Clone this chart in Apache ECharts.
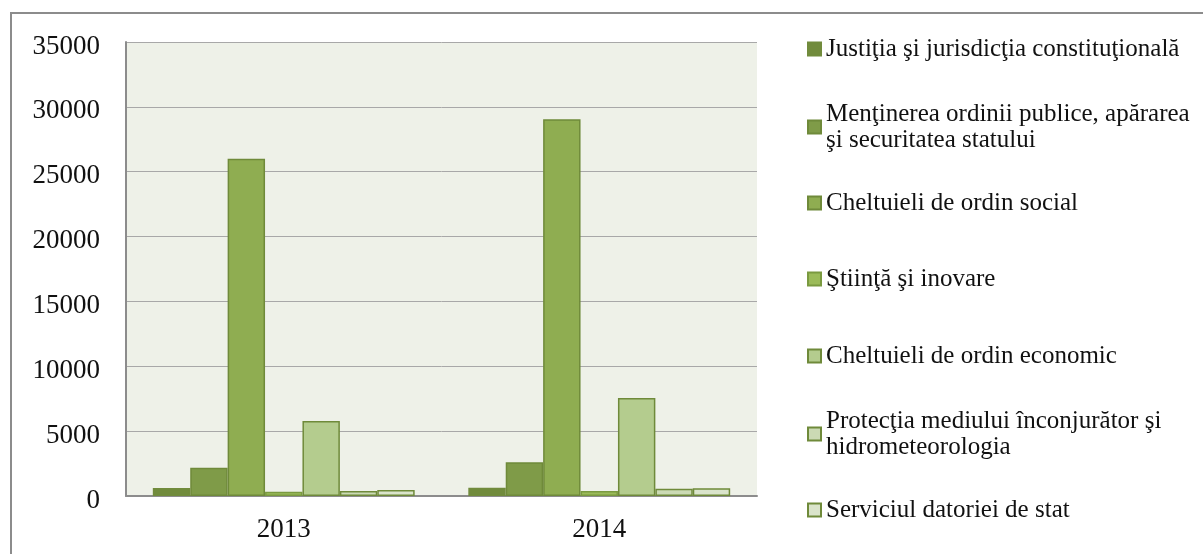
<!DOCTYPE html>
<html>
<head>
<meta charset="utf-8">
<script src="https://cdn.jsdelivr.net/npm/echarts@6/dist/echarts.min.js"></script>
<style>
  html, body { margin: 0; padding: 0; background: #fff; }
  #chart { width: 1203px; height: 554px; }
</style>
</head>
<body>
<div id="chart"></div>
<script>
// ani si categorii
const years = ['2013', '2014'];
const seriesNames = [
  'Justiţia şi jurisdicţia constituţională',
  'Menţinerea ordinii publice, apărarea\nşi securitatea statului',
  'Cheltuieli de ordin social',
  'Ştiinţă şi inovare',
  'Cheltuieli de ordin economic',
  'Protecţia mediului înconjurător şi\nhidrometeorologia',
  'Serviciul datoriei de stat'
];
const justitie = [620, 640];
const ordinePublica = [2180, 2600];
const social = [26000, 29050];
const stiinta = [330, 380];
const economic = [5780, 7550];
const mediu = [390, 560];
const datorie = [460, 590];
const yTicks = [0, 5000, 10000, 15000, 20000, 25000, 30000, 35000];

const values = [justitie, ordinePublica, social, stiinta, economic, mediu, datorie];
const colors = ['#718b3c', '#7f9b48', '#8fad51', '#9bbb59', '#b4cc8e', '#cbdab4', '#dae4cb'];
const borders = ['#718b3c', '#6f8a3a', '#6f8a3a', '#7a9a40', '#6f8a3a', '#6f8a3a', '#6f8a3a'];
// centrul (y) al fiecarui element din legenda
const legendCenters = [49, 127, 203, 279, 356, 434, 510];

const serifFont = '"Liberation Serif", "DejaVu Serif", serif';
const LH = 26;

var myChart = echarts.init(document.getElementById('chart'));

const legends = seriesNames.map((name, i) => {
  const twoLines = name.indexOf('\n') >= 0;
  return {
    data: [name],
    orient: 'vertical',
    left: 807,
    top: legendCenters[i] - LH * 1.5,
    itemWidth: 13,
    itemHeight: 13,
    icon: 'rect',
    selectedMode: false,
    padding: 0,
    textStyle: {
      fontFamily: serifFont,
      fontSize: 25,
      color: '#111',
      lineHeight: LH,
      padding: twoLines ? [LH, 0, 0, 0] : [LH, 0, LH, 0]
    }
  };
});

myChart.setOption({
  animation: false,
  graphic: [{
    type: 'rect',
    shape: { x: 11, y: 13, width: 1200, height: 560 },
    style: { fill: 'none', stroke: '#8c8c8c', lineWidth: 2 },
    z: -1
  }],
  legend: legends,
  grid: {
    left: 126,
    right: 446,
    top: 42,
    bottom: 58,
    show: true,
    backgroundColor: '#eef1e8',
    borderWidth: 0,
    outerBoundsMode: 'none'
  },
  xAxis: {
    type: 'category',
    data: years,
    axisTick: { show: false },
    axisLine: { lineStyle: { color: '#8c8c8c', width: 2 } },
    axisLabel: { fontFamily: serifFont, fontSize: 27, color: '#111', margin: 20 }
  },
  yAxis: {
    type: 'value',
    min: yTicks[0],
    max: yTicks[yTicks.length - 1],
    interval: 5000,
    axisTick: { show: false },
    axisLine: { show: true, lineStyle: { color: '#8c8c8c', width: 2 } },
    splitLine: { lineStyle: { color: '#a8a8a8', width: 1 } },
    axisLabel: {
      color: '#111', margin: 26,
      formatter: (v) => '{t|' + v + '}',
      rich: {
        t: { fontFamily: serifFont, fontSize: 27, color: '#111', padding: [9, 0, 0, 0] }
      }
    }
  },
  series: seriesNames.map((name, i) => ({
    name: name,
    type: 'bar',
    data: values[i],
    barGap: '0%',
    barCategoryGap: '17%',
    itemStyle: { color: colors[i], borderColor: borders[i], borderWidth: 1.5 }
  }))
});
</script>
</body>
</html>
